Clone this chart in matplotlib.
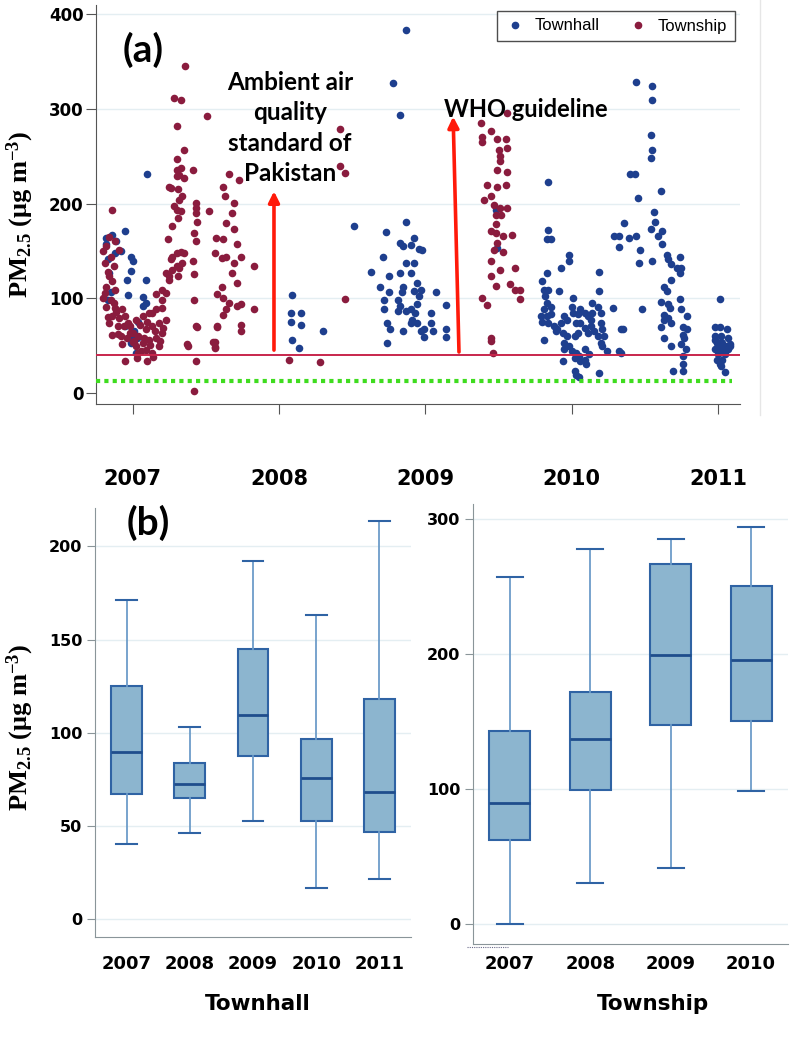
import matplotlib
matplotlib.use("Agg")
import matplotlib.pyplot as plt
from matplotlib.lines import Line2D
import numpy as np

# ---------------- DATA ----------------
# Township (decimal year, PM2.5)
township_winter_2007 = [(2006.86,193),(2006.84,165),(2006.88,160),(2006.82,155),(2006.91,151),(2006.85,144),(2006.81,137),(2006.87,134),(2006.84,123),(2006.82,112),
    (2006.88,109),(2006.81,105),(2006.85,98),(2006.82,91),(2006.88,90),(2006.93,88),(2006.86,81),(2006.91,79),(2006.95,81),(2006.84,74),
    (2006.90,70),(2006.94,70),(2006.86,61),(2006.92,60),(2006.98,63),(2006.93,51),(2007.00,54),(2006.80,150),(2006.83,128),(2006.86,118),
    (2006.80,100),(2006.87,95),(2006.89,85),(2006.83,80),(2006.90,62),(2006.96,58),(2006.97,74)]
township_low_2007 = [(2007.02,77),(2007.07,81),(2007.11,84),(2007.16,88),(2007.20,90),(2007.00,63),(2007.04,60),(2007.09,67),(2007.13,70),(2007.18,74),
    (2007.23,77),(2007.02,49),(2007.07,53),(2007.11,56),(2007.16,58),(2007.20,63),(2007.04,42),(2007.09,45),(2007.13,42),(2007.18,49),
    (2006.95,34),(2007.10,34),(2007.03,37),(2007.13,84),(2006.98,70),(2007.05,72),(2007.08,58),(2007.12,50),(2007.15,65),(2007.06,44),
    (2007.14,38),(2007.19,55),(2007.01,55),(2007.10,75),(2007.21,68)]
township_spring_2007 = [(2007.16,104),(2007.20,109),(2007.23,105),(2007.25,123),(2007.27,130),(2007.30,134),(2007.32,132),(2007.34,137),(2007.23,127),(2007.26,141),
    (2007.30,148),(2007.33,149),(2007.35,148),(2007.24,162),(2007.27,176),(2007.31,185),(2007.30,193),(2007.33,192),(2007.32,204),(2007.34,208),
    (2007.28,197),(2007.31,215),(2007.26,216),(2007.25,218),(2007.30,229),(2007.32,230),(2007.30,236),(2007.35,227),(2007.30,247),(2007.33,238),
    (2007.35,257),(2007.30,282),(2007.28,312),(2007.33,310),(2007.36,345),(2007.41,236),(2007.27,143),(2007.25,119),(2007.31,123),(2007.20,98)]
township_summer_2007 = [(2007.43,201),(2007.43,195),(2007.43,190),(2007.44,180),(2007.42,169),(2007.43,160),(2007.41,139),(2007.42,125),(2007.42,98),(2007.43,70),
    (2007.37,51),(2007.43,33),(2007.42,2),(2007.51,293),(2007.44,69),(2007.38,49),(2007.56,54),(2007.56,48),(2007.58,69)]
township_autumn_2007 = [(2007.66,231),(2007.73,225),(2007.62,218),(2007.52,192),(2007.63,208),(2007.69,201),(2007.68,190),(2007.64,179),(2007.69,173),(2007.57,164),
    (2007.62,162),(2007.71,157),(2007.56,148),(2007.61,142),(2007.64,144),(2007.69,137),(2007.68,127),(2007.74,144),(2007.83,134),(2007.71,116),
    (2007.61,112),(2007.58,104),(2007.62,100),(2007.66,95),(2007.71,92),(2007.74,94),(2007.64,88),(2007.83,88),(2007.62,82),(2007.58,70),
    (2007.74,72),(2007.74,65),(2007.55,54),(2007.56,47)]
township_2008 = [(2008.07,35),(2008.42,279),(2008.42,240),(2008.45,232),(2008.45,99),(2008.28,32)]
township_2009 = [(2009.38,285),(2009.45,277),(2009.56,296),(2009.39,270),(2009.39,265),(2009.49,268),(2009.55,268),(2009.50,257),(2009.56,259),(2009.51,250),
    (2009.51,245),(2009.49,236),(2009.56,233),(2009.42,220),(2009.49,218),(2009.55,220),(2009.45,208),(2009.40,204),(2009.47,199),(2009.51,195),
    (2009.56,195),(2009.48,188),(2009.52,188),(2009.48,178),(2009.45,171),(2009.48,169),(2009.53,166),(2009.59,167),(2009.49,158),(2009.47,151),
    (2009.53,149),(2009.45,139),(2009.51,130),(2009.61,132),(2009.45,123),(2009.58,115),(2009.48,113),(2009.61,109),(2009.65,109),(2009.65,99),
    (2009.39,100),(2009.42,93),(2009.45,58),(2009.45,55),(2009.46,42)]

# Townhall (decimal year, PM2.5)
townhall_winter_2007 = [(2006.82,164),(2006.86,167),(2006.95,171),(2006.89,160),(2006.92,150),(2006.99,144),(2007.00,139),(2006.99,129),(2006.96,119),(2007.09,119),
    (2006.97,103),(2007.07,101),(2007.09,95),(2007.10,231),(2006.84,127),(2006.85,106),(2006.83,98),(2006.95,70),(2006.98,60),(2007.02,42),
    (2006.82,157),(2006.83,141),(2006.88,148),(2007.07,92),(2007.01,65),(2007.03,58),(2006.99,52),(2007.04,75)]
townhall_2008 = [(2008.09,103),(2008.08,84),(2008.15,84),(2008.08,75),(2008.15,72),(2008.09,56),(2008.14,47),(2008.30,65)]
townhall_winter_2009 = [(2008.87,384),(2008.78,327),(2008.83,294),(2008.51,176),(2008.87,181),(2008.73,170),(2008.92,164),(2008.83,158),(2008.85,155),(2008.90,156),
    (2008.96,152),(2008.71,144),(2008.63,128),(2008.75,123),(2008.83,127),(2008.90,127),(2008.69,112),(2008.75,106),(2008.85,112),(2008.92,107),
    (2008.72,98),(2008.83,92),(2008.90,89),(2008.94,94),(2008.72,88),(2008.81,86),(2008.87,86),(2008.93,84),(2008.74,74),(2008.76,67),
    (2008.85,65),(2008.97,65),(2008.74,53),(2009.04,84),(2009.04,74),(2008.92,137),(2008.87,137),(2008.94,116),(2008.84,106),(2008.96,102),
    (2008.91,77),(2008.81,98),(2008.90,74),(2008.94,74),(2009.07,106),(2009.14,93),(2009.05,65),(2009.14,67),(2009.14,59),(2008.99,67),
    (2008.99,59),(2009.49,153),(2009.48,193),(2008.98,151),(2008.97,109)]
townhall_winter_2010 = [(2009.84,223),(2009.84,172),(2009.83,162),(2009.86,162),(2009.83,127),(2009.80,118),(2009.81,109),(2009.84,109),(2009.82,102),(2009.83,95),
    (2009.81,89),(2009.86,91),(2009.79,81),(2009.83,81),(2009.86,83),(2009.80,75),(2009.84,74),(2009.88,70),(2009.89,65),(2009.81,56),
    (2009.91,107),(2009.98,146),(2009.98,139),(2009.93,132),(2010.01,100),(2010.00,91),(2009.95,81),(2009.97,77),(2009.93,74),(2009.90,67),
    (2009.94,63),(2009.97,60),(2009.95,53),(2009.98,49),(2009.95,46),(2010.00,44),(2010.03,42),(2010.05,39),(2009.94,33),(2010.02,37),
    (2010.06,33),(2010.02,23),(2010.03,19),(2010.05,17),(2010.09,35),(2010.10,30),(2010.09,46),(2010.12,41),(2010.06,88),(2010.04,83),
    (2010.09,84),(2010.11,81),(2010.13,77),(2010.14,84),(2010.06,74),(2010.09,68),(2010.11,63),(2010.13,70),(2010.15,65),(2010.18,60),
    (2010.14,95),(2010.18,91),(2010.20,84),(2010.20,74),(2010.21,67),(2010.22,60),(2010.19,128),(2010.19,107),(2010.20,53),(2010.21,49),
    (2010.24,44),(2010.28,90),(2010.34,67),(2010.32,44),(2010.19,21),(2010.02,60),(2010.04,63),(2010.01,84),(2010.03,74)]
townhall_summer_2010 = [(2010.29,166),(2010.32,166),(2010.32,154),(2010.36,179),(2010.39,164),(2010.44,166),(2010.40,231),(2010.43,231),(2010.45,206),(2010.44,329),
    (2010.55,324),(2010.55,310),(2010.54,272),(2010.55,257),(2010.54,248),(2010.61,213),(2010.56,191),(2010.57,181),(2010.54,173),(2010.62,171),
    (2010.59,166),(2010.62,157),(2010.47,151),(2010.65,146),(2010.66,141),(2010.46,137),(2010.55,139),(2010.68,136),(2010.72,132),(2010.74,127),
    (2010.75,132),(2010.74,144),(2010.68,119),(2010.63,112),(2010.65,108),(2010.61,96),(2010.66,94),(2010.67,90),(2010.48,89),(2010.74,99),
    (2010.75,89),(2010.63,82),(2010.66,79),(2010.68,74),(2010.63,77),(2010.79,81),(2010.61,69),(2010.76,69),(2010.79,67),(2010.63,58),
    (2010.76,61),(2010.77,58),(2010.75,51),(2010.78,46),(2010.68,49),(2010.76,39),(2010.76,30),(2010.69,23),(2010.76,23),(2010.35,67),
    (2010.34,42)]
townhall_2011 = [(2011.01,99),(2010.98,69),(2011.01,69),(2011.06,67),(2010.98,60),(2011.02,60),(2011.07,58),(2010.99,53),(2011.03,53),(2011.08,51),
    (2010.98,46),(2011.02,46),(2011.07,46),(2011.00,41),(2011.05,41),(2010.99,35),(2011.03,35),(2011.01,30),(2011.02,28),(2011.05,22),
    (2011.08,49),(2011.00,49),(2011.05,49),(2010.98,56),(2011.02,54)]

pakistan_standard = 40
who_guideline = 12
year_ticks = [2007, 2008, 2009, 2010, 2011]

# Boxplot statistics
townhall_years = ['2007', '2008', '2009', '2010', '2011']
townhall_whislo = [40.4, 46.6, 52.6, 16.6, 21.6]
townhall_q1 = [67.0, 65.1, 87.7, 52.6, 47.0]
townhall_med = [89.7, 72.5, 109.4, 75.6, 68.2]
townhall_q3 = [125.3, 83.6, 144.8, 96.9, 118.1]
townhall_whishi = [171.0, 103.3, 192.0, 163.4, 213.8]

township_years = ['2007', '2008', '2009', '2010']
township_whislo = [0.0, 30.3, 41.4, 98.4]
township_q1 = [62.4, 99.5, 147.3, 150.5]
township_med = [89.7, 137.6, 199.7, 195.7]
township_q3 = [143.2, 172.4, 267.0, 250.8]
township_whishi = [257.0, 278.4, 285.4, 294.6]

# ---------------- STYLE ----------------
W, H = 799, 1042
fig = plt.figure(figsize=(W/100, H/100), dpi=100)
plt.rcParams['mathtext.fontset'] = 'custom'
plt.rcParams['mathtext.rm'] = 'Liberation Serif:bold'
plt.rcParams['mathtext.it'] = 'Liberation Serif:bold'
plt.rcParams['mathtext.bf'] = 'Liberation Serif:bold'

BLUE = '#1e3f8e'
RED = '#8a1c3e'
GRID = '#e4eef2'
SPINE = '#555555'

def fx(px):
    return px / W

def fy(py):
    return 1 - py / H

def combine(*groups):
    pts = [p for g in groups for p in g]
    return np.array([p[0] for p in pts]), np.array([p[1] for p in pts])

# ---------------- PANEL (a) ----------------
ax = fig.add_axes([fx(96), fy(404), fx(740) - fx(96), fy(5) - fy(404)])
ax.set_xlim(2006.75, 2011.15)
ax.set_ylim(-12, 410)
for s in ['top', 'right']:
    ax.spines[s].set_visible(False)
for s in ['left', 'bottom']:
    ax.spines[s].set_color(SPINE)
ax.set_yticks([0, 100, 200, 300, 400])
ax.set_xticks(year_ticks)
ax.set_xticklabels([str(y) for y in year_ticks])
ax.tick_params(axis='y', length=7, color=SPINE, labelsize=12, pad=2)
ax.tick_params(axis='x', length=7, color=SPINE, labelsize=15, pad=40)
for lab in ax.get_yticklabels() + ax.get_xticklabels():
    lab.set_fontweight('bold')
for yv in [100, 200, 300, 400]:
    ax.axhline(yv, color=GRID, lw=1, zorder=0)

tx, tv = combine(townhall_winter_2007, townhall_2008, townhall_winter_2009,
                 townhall_winter_2010, townhall_summer_2010, townhall_2011)
sx, sv = combine(township_winter_2007, township_low_2007, township_spring_2007,
                 township_summer_2007, township_autumn_2007, township_2008, township_2009)
ax.scatter(tx, tv, s=30, color=BLUE, linewidths=0, zorder=3)
ax.scatter(sx, sv, s=30, color=RED, linewidths=0, zorder=3)

ax.axhline(pakistan_standard, color='#c8264c', lw=1.4, zorder=4)
ax.axhline(who_guideline, xmax=0.988, color='#3fdc1f', lw=3, ls=(0, (1, 1)), zorder=4)

ax.annotate('', xy=(2007.966, 213), xytext=(2007.966, 45),
            arrowprops=dict(arrowstyle='-|>', color='#ff1a0a', lw=2.6, mutation_scale=16, shrinkA=0, shrinkB=0), zorder=5)
ax.annotate('', xy=(2009.19, 292), xytext=(2009.23, 43),
            arrowprops=dict(arrowstyle='-|>', color='#ff1a0a', lw=2.6, mutation_scale=16, shrinkA=0, shrinkB=0), zorder=5)

ax.text(2008.075, 280, 'Ambient air\nquality\nstandard of\nPakistan', ha='center', va='center',
        fontsize=17.5, fontweight='bold', family='Lato', linespacing=1.4, zorder=6)
ax.text(2009.13, 299, 'WHO guideline', ha='left', va='center',
        fontsize=17, fontweight='bold', family='Lato', zorder=6)
ax.text(2007.07, 362, '(a)', ha='center', va='center', fontsize=28, fontweight='bold', family='Lato')

handles = [Line2D([], [], ls='none', marker='o', ms=4.5, color=BLUE),
           Line2D([], [], ls='none', marker='o', ms=4.5, color=RED)]
leg = ax.legend(handles, ['Townhall', 'Township'], ncol=2, loc='upper left',
                bbox_to_anchor=(fx(497), fy(11)), bbox_transform=fig.transFigure,
                frameon=True, fancybox=False, borderaxespad=0, borderpad=0.45,
                handletextpad=0.6, columnspacing=1.7, handlelength=1.2,
                prop={'family': 'Liberation Sans', 'size': 12})
leg.get_frame().set_edgecolor('#222222')
leg.get_frame().set_linewidth(1.0)

ylabel = 'PM$_{\\mathregular{2.5}}$ (μg m$^{\\mathregular{-3}}$)'
fig.text(fx(20), fy(214), ylabel, rotation=90, ha='center', va='center',
         fontsize=19, fontweight='bold', family='Liberation Serif')

# faint frame line on right of panel (a)
fig.add_artist(Line2D([fx(760), fx(760)], [fy(0), fy(415)], color='#e6e6e6', lw=1))

# ---------------- PANEL (b) ----------------
def make_stats(lo, q1, med, q3, hi):
    return [dict(whislo=a, q1=b, med=c, q3=d, whishi=e, fliers=[])
            for a, b, c, d, e in zip(lo, q1, med, q3, hi)]

BOXFACE = '#8cb5cf'
BOXEDGE = '#2f63a4'

def style_box_axes(axb, yticks, xpad):
    for s in ['top', 'right']:
        axb.spines[s].set_visible(False)
    for s in ['left', 'bottom']:
        axb.spines[s].set_color('#8a9599')
    axb.set_yticks(yticks)
    axb.tick_params(axis='y', length=6, color='#8a9599', labelsize=11.5, pad=3)
    axb.tick_params(axis='x', length=0, labelsize=13, pad=xpad)
    for lab in axb.get_yticklabels() + axb.get_xticklabels():
        lab.set_fontweight('bold')
    for yv in yticks:
        axb.axhline(yv, color=GRID, lw=1, zorder=0)

box_kw = dict(patch_artist=True, showfliers=False,
              boxprops=dict(facecolor=BOXFACE, edgecolor=BOXEDGE, lw=1.5),
              medianprops=dict(color='#1f4d8c', lw=2),
              whiskerprops=dict(color='#6d9cc9', lw=1.3),
              capprops=dict(color=BOXEDGE, lw=1.5))

ax1 = fig.add_axes([fx(95), fy(937), fx(411) - fx(95), fy(508) - fy(937)])
ax1.bxp(make_stats(townhall_whislo, townhall_q1, townhall_med, townhall_q3, townhall_whishi),
        positions=range(1, len(townhall_years) + 1), widths=0.49, capwidths=0.33, **box_kw)
ax1.set_xlim(0.5, 5.5)
ax1.set_ylim(-9.4, 220.5)
ax1.set_xticks(range(1, len(townhall_years) + 1))
ax1.set_xticklabels(townhall_years)
style_box_axes(ax1, [0, 50, 100, 150, 200], 13)

ax2 = fig.add_axes([fx(473), fy(944), fx(788) - fx(473), fy(504) - fy(944)])
ax2.bxp(make_stats(township_whislo, township_q1, township_med, township_q3, township_whishi),
        positions=range(1, len(township_years) + 1), widths=0.51, capwidths=0.32, **box_kw)
ax2.set_xlim(0.54, 4.46)
ax2.set_ylim(-14.6, 311.4)
ax2.set_xticks(range(1, len(township_years) + 1))
ax2.set_xticklabels(township_years)
style_box_axes(ax2, [0, 100, 200, 300], 8)

fig.text(fx(148), fy(523), '(b)', ha='center', va='center', fontsize=28, fontweight='bold', family='Lato')
fig.text(fx(20), fy(727), ylabel, rotation=90, ha='center', va='center',
         fontsize=19, fontweight='bold', family='Liberation Serif')
fig.text(fx(258), fy(1004), 'Townhall', ha='center', va='center', fontsize=15.5, fontweight='bold')
fig.text(fx(653), fy(1004), 'Township', ha='center', va='center', fontsize=15.5, fontweight='bold')
fig.add_artist(Line2D([fx(467), fx(508)], [fy(947), fy(947)], color='#6b6b8a', lw=0.8, ls=(0, (1, 1))))

fig.savefig('out.png', dpi=100)
